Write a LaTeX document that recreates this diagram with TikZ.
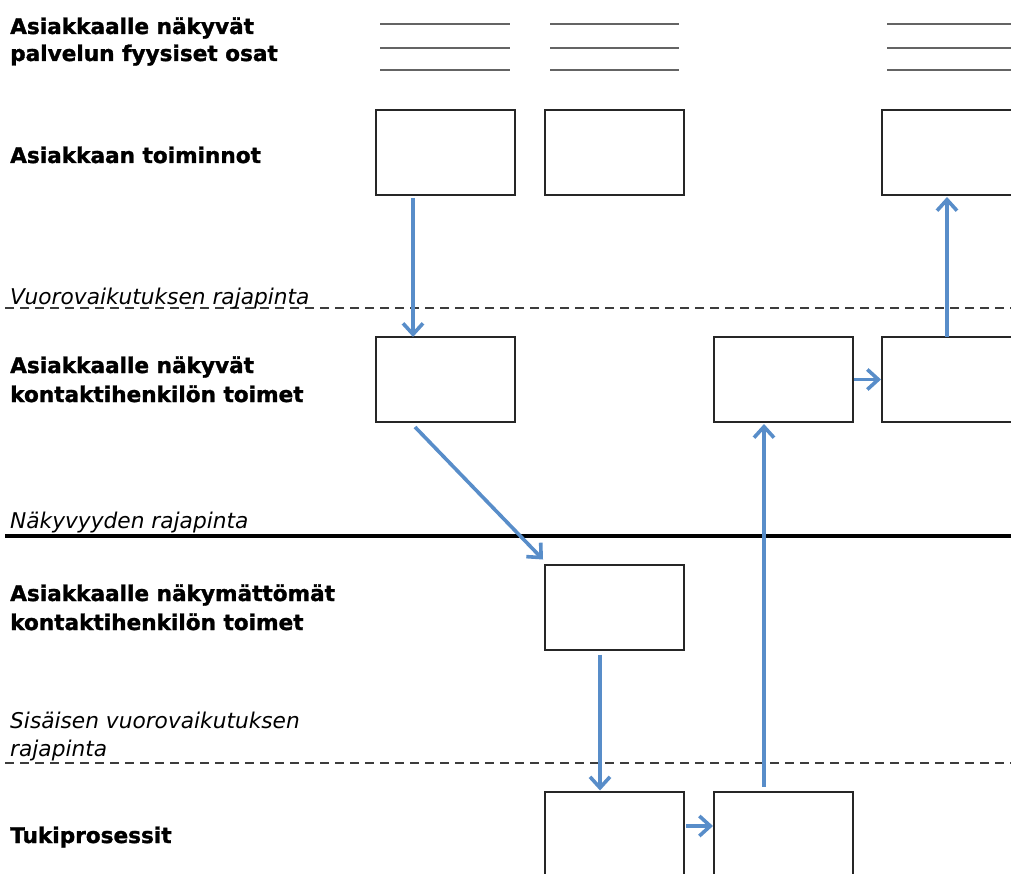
\documentclass[tikz,border=0pt]{standalone}
\usepackage{fontspec}
\setmainfont{DejaVu Sans}[BoldFeatures={FakeBold=1.4}]
\usetikzlibrary{arrows.meta}

\definecolor{flowblue}{RGB}{88,141,201}
\definecolor{rulegrey}{RGB}{60,60,60}
\definecolor{propgrey}{RGB}{100,100,100}

\tikzset{
  lanebox/.style={draw=black!85, line width=2pt, fill=white,
    minimum width=139pt, minimum height=85pt, inner sep=0pt, outer sep=0pt},
  rowlabel/.style={anchor=base west, inner sep=0pt, font=\bfseries\fontsize{21.6}{28}\selectfont},
  linelabel/.style={anchor=base west, inner sep=0pt, font=\itshape\fontsize{21.7}{28}\selectfont},
  flow/.style={draw=flowblue, line width=3.6pt,
    -{Straight Barb[length=11pt,width=20pt,line width=3.6pt]}},
  propline/.style={draw=propgrey, line width=1.5pt},
  dashrule/.style={draw=rulegrey, line width=2pt, dash pattern=on 9pt off 6pt},
  solidrule/.style={draw=black, line width=3.6pt}
}

\begin{document}
\begin{tikzpicture}[x=1pt,y=-1pt]
  \useasboundingbox (0,0) rectangle (1011,874);
  \clip (0,0) rectangle (1011,874);

  % lane labels
  \node[rowlabel] (l1a) at (10,34) {Asiakkaalle näkyvät};
  \node[rowlabel] (l1b) at (10,61) {palvelun fyysiset osat};
  \node[rowlabel] (l2)  at (10,163) {Asiakkaan toiminnot};
  \node[rowlabel] (l3a) at (10,373) {Asiakkaalle näkyvät};
  \node[rowlabel] (l3b) at (10,402) {kontaktihenkilön toimet};
  \node[rowlabel] (l4a) at (10,601) {Asiakkaalle näkymättömät};
  \node[rowlabel] (l4b) at (10,630) {kontaktihenkilön toimet};
  \node[rowlabel] (l5)  at (10,843) {Tukiprosessit};

  % boundary lines and their labels
  \draw[dashrule] (5,308) -- (1011,308);
  \node[linelabel] (i1) at (10,305) {Vuorovaikutuksen rajapinta};
  \draw[solidrule] (5,536) -- (1011,536);
  \node[linelabel] (i2) at (10,528) {Näkyvyyden rajapinta};
  \draw[dashrule] (5,763) -- (1011,763);
  \node[linelabel] (i3a) at (10,728) {Sisäisen vuorovaikutuksen};
  \node[linelabel] (i3b) at (10,756) {rajapinta};

  % physical evidence placeholders
  \foreach \y in {24,48,70} {
    \draw[propline] (380,\y) -- (510,\y);
    \draw[propline] (550,\y) -- (679,\y);
    \draw[propline] (887,\y) -- (1016,\y);
  }

  % process steps
  \node[lanebox] (b11) at (445.5,152.5) {};
  \node[lanebox] (b12) at (614.5,152.5) {};
  \node[lanebox] (b13) at (951.5,152.5) {};
  \node[lanebox] (b21) at (445.5,379.5) {};
  \node[lanebox] (b22) at (783.5,379.5) {};
  \node[lanebox] (b23) at (951.5,379.5) {};
  \node[lanebox] (b3)  at (614.5,607) {};
  \node[lanebox] (b41) at (614.5,834) {};
  \node[lanebox] (b42) at (783.5,834) {};

  % flows
  \draw[flow] ([xshift=37pt,yshift=-3pt]b11.south west) -- ([xshift=37pt]b21.north west);
  \draw[flow] ([xshift=39pt,yshift=-5pt]b21.south west) -- ([xshift=-2pt,yshift=5pt]b3.north west);
  \draw[flow] ([xshift=55pt,yshift=-5pt]b3.south west) -- ([xshift=55pt,yshift=1pt]b41.north west);
  \draw[flow] ([xshift=2pt]b41.east |- 0,826) -- ([xshift=-1pt]b42.west |- 0,826);
  \draw[flow] ([xshift=50pt,yshift=5pt]b42.north west) -- ([xshift=50pt,yshift=-2pt]b22.south west);
  \draw[flow] ([xshift=1pt]b22.east) -- ([xshift=-1pt]b23.west);
  \draw[flow] ([xshift=65pt]b23.north west) -- ([xshift=65pt,yshift=-2pt]b13.south west);
\end{tikzpicture}
\end{document}
